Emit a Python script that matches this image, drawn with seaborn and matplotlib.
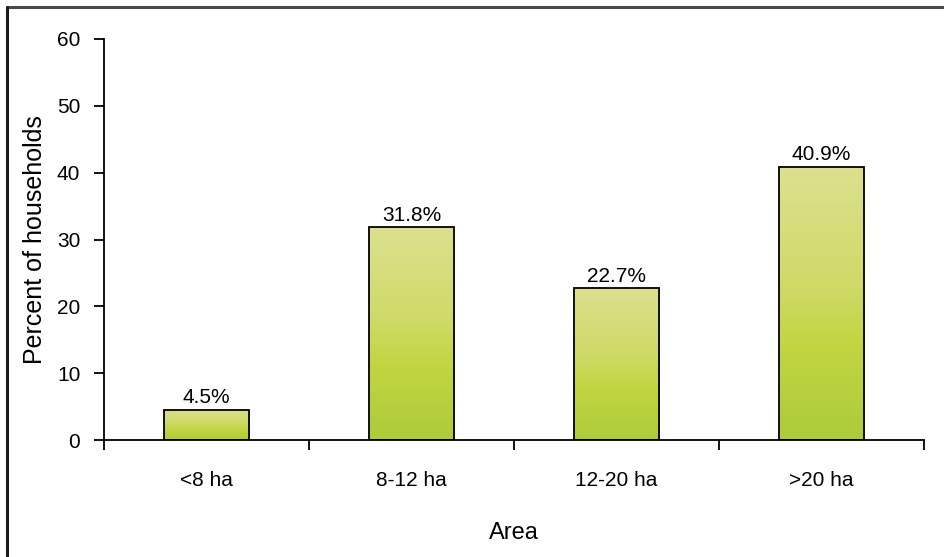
import numpy as np
import pandas as pd
import matplotlib
matplotlib.use("Agg")
import matplotlib.pyplot as plt
from matplotlib.colors import LinearSegmentedColormap
from matplotlib.lines import Line2D
import seaborn as sns

categories = ["<8 ha", "8-12 ha", "12-20 ha", ">20 ha"]
percent = [4.5, 31.8, 22.7, 40.9]
y_ticks = [0, 10, 20, 30, 40, 50, 60]

sns.set_theme(style="white")
plt.rcParams["font.family"] = ["Liberation Sans", "DejaVu Sans"]
plt.rcParams["text.color"] = "black"
plt.rcParams["axes.labelcolor"] = "black"
plt.rcParams["xtick.color"] = "black"
plt.rcParams["ytick.color"] = "black"

df = pd.DataFrame({"Area": categories, "Percent": percent})

fig = plt.figure(figsize=(9.45, 5.57), dpi=100)
ax = fig.add_axes([0.110, 0.210, 0.868, 0.720])

sns.barplot(data=df, x="Area", y="Percent", ax=ax, width=0.415,
            color="#C8D64A", edgecolor="black", linewidth=1.3, zorder=2)

# vertical gradient fill inside each bar (light top, deeper green bottom)
grad_cmap = LinearSegmentedColormap.from_list(
    "bar_grad", [(0.0, "#ADCB3B"), (0.35, "#C2D541"), (0.55, "#CFD966"),
                 (1.0, "#DCE08F")])
grad = np.linspace(0, 1, 256).reshape(-1, 1)
for patch in ax.patches:
    x0, y0 = patch.get_x(), patch.get_y()
    w, h = patch.get_width(), patch.get_height()
    im = ax.imshow(grad, cmap=grad_cmap, origin="lower", aspect="auto",
                   extent=[x0, x0 + w, y0, y0 + h], zorder=1.5,
                   interpolation="bilinear")
    im.set_clip_path(patch)
    patch.set_facecolor("none")

for patch, val in zip(ax.patches, percent):
    ax.annotate(f"{val}%", (patch.get_x() + patch.get_width() / 2, val),
                xytext=(0, 2), textcoords="offset points",
                ha="center", va="bottom", fontsize=15, color="black")

ax.set_xlim(-0.5, len(categories) - 0.5)
ax.set_ylim(0, 60)
ax.set_yticks(y_ticks)

# category ticks sit on the boundaries between groups
ax.set_xticks(np.arange(-0.5, len(categories), 1.0))
ax.set_xticklabels([])
ax.set_xticks(np.arange(len(categories)), minor=True)
ax.set_xticklabels(categories, minor=True)
ax.tick_params(axis="x", which="minor", length=0, pad=22, labelsize=15)
ax.tick_params(axis="x", which="major", direction="out", length=7,
               width=1.3, color="black", bottom=True)
ax.tick_params(axis="y", direction="out", length=7, width=1.3,
               color="black", left=True, labelsize=15, pad=10)

for side in ["top", "right"]:
    ax.spines[side].set_visible(False)
for side in ["left", "bottom"]:
    ax.spines[side].set_color("black")
    ax.spines[side].set_linewidth(1.3)
ax.spines["bottom"].set_zorder(3)

ax.set_xlabel("Area", fontsize=17, labelpad=23)
ax.set_ylabel("Percent of households", fontsize=18, labelpad=7)
ax.grid(False)

# frame lines along the top and left edges of the figure
fig.add_artist(Line2D([7.5 / 945, 1.0], [1 - 6.5 / 557, 1 - 6.5 / 557],
                      transform=fig.transFigure, color="#4a4a4a", lw=2.2))
fig.add_artist(Line2D([7.5 / 945, 7.5 / 945], [0.0, 1 - 6.5 / 557],
                      transform=fig.transFigure, color="#1a1a1a", lw=2.2))

fig.savefig("out.png", dpi=100, facecolor="white")
